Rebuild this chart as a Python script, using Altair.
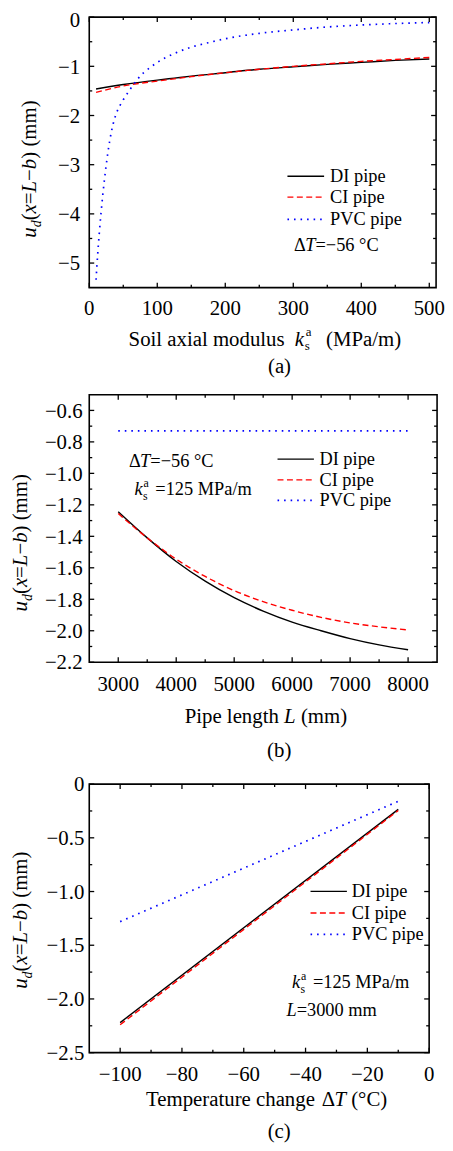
import altair as alt
import pandas as pd

FONT = "Liberation Serif"

# ---------------- data: panel (a) ----------------
ks_a = [10, 50, 100, 125, 150, 200, 250, 300, 350, 400, 450, 500]
di_a = [-1.46, -1.37, -1.28, -1.24, -1.20, -1.13, -1.06, -1.01, -0.96, -0.92, -0.88, -0.85]
ci_a = [-1.53, -1.40, -1.30, -1.255, -1.21, -1.13, -1.06, -1.00, -0.95, -0.90, -0.86, -0.82]
ks_pvc = [10, 12.5, 15, 17.5, 20, 25, 30, 35, 40, 45, 50, 60, 70, 80, 90, 100,
          125, 150, 175, 200, 250, 300, 350, 400, 450, 500]
pvc_a = [-5.34, -4.80, -4.35, -3.95, -3.60, -3.00, -2.52, -2.18, -1.95, -1.80, -1.68,
         -1.47, -1.28, -1.13, -1.02, -0.92, -0.74, -0.61, -0.52, -0.44, -0.33, -0.26,
         -0.20, -0.16, -0.13, -0.11]

# ---------------- data: panel (b) ----------------
L_b = [3000, 3500, 4000, 4500, 5000, 5500, 6000, 6500, 7000, 7500, 8000]
di_b = [-1.244, -1.41, -1.56, -1.685, -1.79, -1.875, -1.945, -2.00, -2.05, -2.09, -2.121]
ci_b = [-1.255, -1.41, -1.545, -1.655, -1.745, -1.815, -1.87, -1.915, -1.95, -1.975, -1.995]
pvc_b = [-0.73, -0.73, -0.73, -0.73, -0.73, -0.73, -0.73, -0.73, -0.73, -0.73, -0.73]

# ---------------- data: panel (c) ----------------
dT_c = [-100, -10]
di_c = [-2.22, -0.235]
ci_c = [-2.24, -0.245]
pvc_c = [-1.28, -0.16]

# ---------------- tick values ----------------
xa_major = [0, 100, 200, 300, 400, 500]
xa_minor = [50, 150, 250, 350, 450]
ya_major = [0, -1, -2, -3, -4, -5]
ya_minor = [-0.5, -1.5, -2.5, -3.5, -4.5]

xb_major = [3000, 4000, 5000, 6000, 7000, 8000]
xb_minor = [3500, 4500, 5500, 6500, 7500]
yb_major = [-0.6, -0.8, -1.0, -1.2, -1.4, -1.6, -1.8, -2.0, -2.2]
yb_minor = [-0.7, -0.9, -1.1, -1.3, -1.5, -1.7, -1.9, -2.1]

xc_major = [-100, -80, -60, -40, -20, 0]
xc_minor = [-90, -70, -50, -30, -10]
yc_major = [0, -0.5, -1.0, -1.5, -2.0, -2.5]
yc_minor = [-0.25, -0.75, -1.25, -1.75, -2.25]

pipes = ["DI pipe", "CI pipe", "PVC pipe"]

# ---------------- styling helpers ----------------
STYLE = {
    "DI pipe": dict(color="black", strokeWidth=1.4),
    "CI pipe": dict(color="#ff0000", strokeWidth=1.4, strokeDash=[6, 3.5]),
    "PVC pipe": dict(color="#0000ff", strokeWidth=1.7, strokeDash=[1.6, 5]),
}

REG = {' ': 250, '(': 333, ')': 333, '/': 278, '.': 250, '=': 564, '−': 564, '°': 400,
       'Δ': 612, 'C': 667, 'D': 722, 'I': 333, 'L': 611, 'M': 889, 'P': 556, 'S': 556,
       'T': 611, 'V': 722, 'a': 444, 'b': 500, 'c': 444, 'd': 500, 'e': 444, 'g': 500,
       'h': 500, 'i': 278, 'l': 278, 'm': 778, 'n': 500, 'o': 500, 'p': 500, 'r': 333,
       's': 389, 't': 278, 'u': 500, 'x': 500, 'k': 500}
ITA = {'b': 500, 'd': 500, 'k': 444, 'L': 556, 'T': 556, 'u': 500, 'x': 444}


def tw(s, it, sz):
    tab = ITA if it else REG
    return sum(tab.get(c, REG.get(c, 500)) for c in s) * sz / 1000.0


def fmt(v, dec):
    s = f"{abs(v):.{dec}f}"
    return ("−" + s) if v < 0 else s


def one():
    return pd.DataFrame({"k": [0]})


def txt(s, x, y, size=18.5, italic=False, angle=0, align="left"):
    kw = dict(text=s, font=FONT, fontSize=size, color="black", align=align,
              baseline="alphabetic")
    if italic:
        kw["fontStyle"] = "italic"
    if angle:
        kw["angle"] = angle
    return alt.Chart(one()).mark_text(**kw).encode(x=alt.value(x), y=alt.value(y))


def split_lead(s, it, sz):
    lead = len(s) - len(s.lstrip(" "))
    return s.lstrip(" "), tw(" " * lead, it, sz)


def rich(pieces, x, y):
    out = []
    for s, it, sz, dy, adv in pieces:
        s2, lead = split_lead(s, it, sz)
        out.append(txt(s2, x + lead, y + dy, sz, bool(it)))
        if adv:
            x += tw(s, it, sz)
    return out


def rich_rot(pieces, xb, yc):
    total = sum(tw(s, it, sz) for s, it, sz, dy, adv in pieces if adv)
    y = yc + total / 2.0
    out = []
    for s, it, sz, dy, adv in pieces:
        s2, lead = split_lead(s, it, sz)
        out.append(txt(s2, xb + dy, y - lead, sz, bool(it), angle=270))
        if adv:
            y -= tw(s, it, sz)
    return out


YTITLE = [("u", 1, 21, 0, 1), ("d", 1, 14, 5, 1), ("(", 0, 21, 0, 1), ("x", 1, 21, 0, 1),
          ("=", 0, 21, 0, 1), ("L", 1, 21, 0, 1), ("−", 0, 21, 0, 1), ("b", 1, 21, 0, 1),
          (") (mm)", 0, 21, 0, 1)]
DT = [("Δ", 0, 18.5, 0, 1), ("T", 1, 18.5, 0, 1), ("=−56 °C", 0, 18.5, 0, 1)]


def kval(x0, y0):
    return [txt("k", x0, y0, 18.5, True), txt("s", x0 + 8.5, y0 + 5, 12),
            txt("a", x0 + 9, y0 - 8, 12), txt("=125 MPa/m", x0 + 21, y0, 18.5)]


def line_layer(xs, ys, name, xscale, yscale, interp):
    df = pd.DataFrame({"x": xs, "y": ys})
    return alt.Chart(df).mark_line(interpolate=interp, strokeCap="butt", **STYLE[name]).encode(
        x=alt.X("x:Q", scale=xscale, axis=None),
        y=alt.Y("y:Q", scale=yscale, axis=None),
    )


def tick_layers(xscale, yscale, xmaj, xmin, ymaj, ymin, W, top, H):
    layers = []
    for vals, ln in ((xmaj, 5), (xmin, 3)):
        d = pd.DataFrame({"v": vals})
        base = alt.Chart(d).mark_rule(color="black", strokeWidth=1.3)
        xe = alt.X("v:Q", scale=xscale, axis=None)
        layers.append(base.encode(x=xe, y=alt.value(H), y2=alt.value(H - ln)))
        layers.append(base.encode(x=xe, y=alt.value(top), y2=alt.value(top + ln)))
    for vals, ln in ((ymaj, 5), (ymin, 3)):
        d = pd.DataFrame({"v": vals})
        base = alt.Chart(d).mark_rule(color="black", strokeWidth=1.3)
        ye = alt.Y("v:Q", scale=yscale, axis=None)
        layers.append(base.encode(y=ye, x=alt.value(0), x2=alt.value(ln)))
        layers.append(base.encode(y=ye, x=alt.value(W), x2=alt.value(W - ln)))
    layers.append(
        alt.Chart(one()).mark_rect(filled=False, stroke="black", strokeWidth=1.6).encode(
            x=alt.value(0), x2=alt.value(W), y=alt.value(top), y2=alt.value(H)))
    return layers


def ylab_layer(yscale, vals, dec, gap, dy):
    d = pd.DataFrame({"v": vals, "t": [fmt(v, dec) if v != 0 else "0" for v in vals]})
    return alt.Chart(d).mark_text(font=FONT, fontSize=21, color="black", align="right",
                                  baseline="alphabetic", dy=dy).encode(
        y=alt.Y("v:Q", scale=yscale, axis=None), x=alt.value(-gap), text="t:N")


def label_layers(xscale, yscale, xvals, xdec, yvals, ydec, H, xbase, ygap, top_shift=0.0):
    dx = pd.DataFrame({"v": xvals, "t": [fmt(v, xdec) for v in xvals]})
    lx = alt.Chart(dx).mark_text(font=FONT, fontSize=21, color="black", align="center",
                                 baseline="alphabetic").encode(
        x=alt.X("v:Q", scale=xscale, axis=None), y=alt.value(H + xbase), text="t:N")
    if top_shift:
        return [lx, ylab_layer(yscale, yvals[:1], ydec, ygap, 7.3 + top_shift),
                ylab_layer(yscale, yvals[1:], ydec, ygap, 7.3)]
    return [lx, ylab_layer(yscale, yvals, ydec, ygap, 7.3)]


def legend_layers(x1, x2, xt, rows):
    out = []
    for name, y in zip(pipes, rows):
        st = STYLE[name]
        out.append(alt.Chart(one()).mark_rule(strokeCap="butt", **st).encode(
            x=alt.value(x1), x2=alt.value(x2), y=alt.value(y)))
        out.append(txt(name, xt, y + 6, 18.5))
    return out


# ---------------- panel (a) ----------------
Wa, Ha = 350, 273
xs_a = alt.Scale(domain=[0, 510], nice=False, zero=False)
ys_a = alt.Scale(domain=[-5.5, 0], nice=False, zero=False)
la = [line_layer(ks_a, di_a, "DI pipe", xs_a, ys_a, "monotone"),
      line_layer(ks_a, ci_a, "CI pipe", xs_a, ys_a, "monotone"),
      line_layer(ks_pvc, pvc_a, "PVC pipe", xs_a, ys_a, "monotone")]
la += tick_layers(xs_a, ys_a, xa_major, xa_minor, ya_major, ya_minor, Wa, 0, Ha)
la += label_layers(xs_a, ys_a, xa_major, 0, ya_major, 0, Ha, 27.4, 9.3, top_shift=3.0)
la += legend_layers(200, 237, 243, [160.6, 181.6, 204])
la += rich(DT, 206.7, 236)
la += [txt("Soil axial modulus", 39.7, 331.6, 21), txt("k", 207.5, 331.6, 21, True),
       txt("s", 217.5, 335.6, 13), txt("a", 218.5, 321.6, 13),
       txt("(MPa/m)", 239, 331.6, 21)]
la += [txt("(a)", 192, 359.3, 21, align="center")]
la += rich_rot(YTITLE, -54, 153.3)
panel_a = alt.layer(*la).properties(width=Wa, height=Ha)

# ---------------- panel (b) ----------------
Wb, Hb = 351, 270
xs_b = alt.Scale(domain=[2500, 8500], nice=False, zero=False)
ys_b = alt.Scale(domain=[-2.2, -0.5], nice=False, zero=False)
lb = [line_layer(L_b, di_b, "DI pipe", xs_b, ys_b, "monotone"),
      line_layer(L_b, ci_b, "CI pipe", xs_b, ys_b, "monotone"),
      line_layer(L_b, pvc_b, "PVC pipe", xs_b, ys_b, "linear")]
lb += tick_layers(xs_b, ys_b, xb_major, xb_minor, yb_major, yb_minor, Wb, 0, Hb)
lb += label_layers(xs_b, ys_b, xb_major, 0, yb_major, 1, Hb, 29, 6.7)
lb += legend_layers(190, 226.7, 232.3, [65, 86, 106.7])
lb += rich(DT, 40, 73.4)
lb += kval(45.7, 101)
lb += rich([("Pipe length ", 0, 21, 0, 1), ("L", 1, 21, 0, 1), (" (mm)", 0, 21, 0, 1)],
           96.3, 331)
lb += [txt("(b)", 191.7, 366, 21, align="center")]
lb += rich_rot(YTITLE, -63, 149.4)
panel_b = alt.layer(*lb).properties(width=Wb, height=Hb)

# ---------------- panel (c) ----------------
Wc, Hc, topc = 343, 286, 15
xs_c = alt.Scale(domain=[-110, 0], nice=False, zero=False)
ys_c = alt.Scale(domain=[-2.5, 0], nice=False, zero=False, range=[Hc, topc])
lc = [line_layer(dT_c, di_c, "DI pipe", xs_c, ys_c, "linear"),
      line_layer(dT_c, ci_c, "CI pipe", xs_c, ys_c, "linear"),
      line_layer(dT_c, pvc_c, "PVC pipe", xs_c, ys_c, "linear")]
lc += tick_layers(xs_c, ys_c, xc_major, xc_minor, yc_major, yc_minor, Wc, topc, Hc)
lc += label_layers(xs_c, ys_c, xc_major, 0, yc_major, 1, Hc, 28.3, 5)
lc += legend_layers(223.3, 260, 265, [123.3, 145, 166.6])
lc += kval(204.7, 221)
lc += [txt("L", 199, 248.6, 18.5, True), txt("=3000 mm", 209.3, 248.6, 18.5)]
lc += rich([("Temperature change ", 0, 21, 0, 1), ("Δ", 0, 21, 0, 1), ("T", 1, 21, 0, 1),
            (" (°C)", 0, 21, 0, 1)], 57.3, 340)
lc += [txt("(c)", 191.7, 372.6, 21, align="center")]
lc += rich_rot(YTITLE, -63, 152.3)
panel_c = alt.layer(*lc).properties(width=Wc, height=Hc)

chart = alt.vconcat(panel_a, panel_b, panel_c, spacing=108, bounds="flush").properties(
    padding={"left": 1, "top": -3, "right": 0, "bottom": 0}
).configure_view(strokeWidth=0)

chart.save("out.html", embed_options={"renderer": "svg", "actions": False})
